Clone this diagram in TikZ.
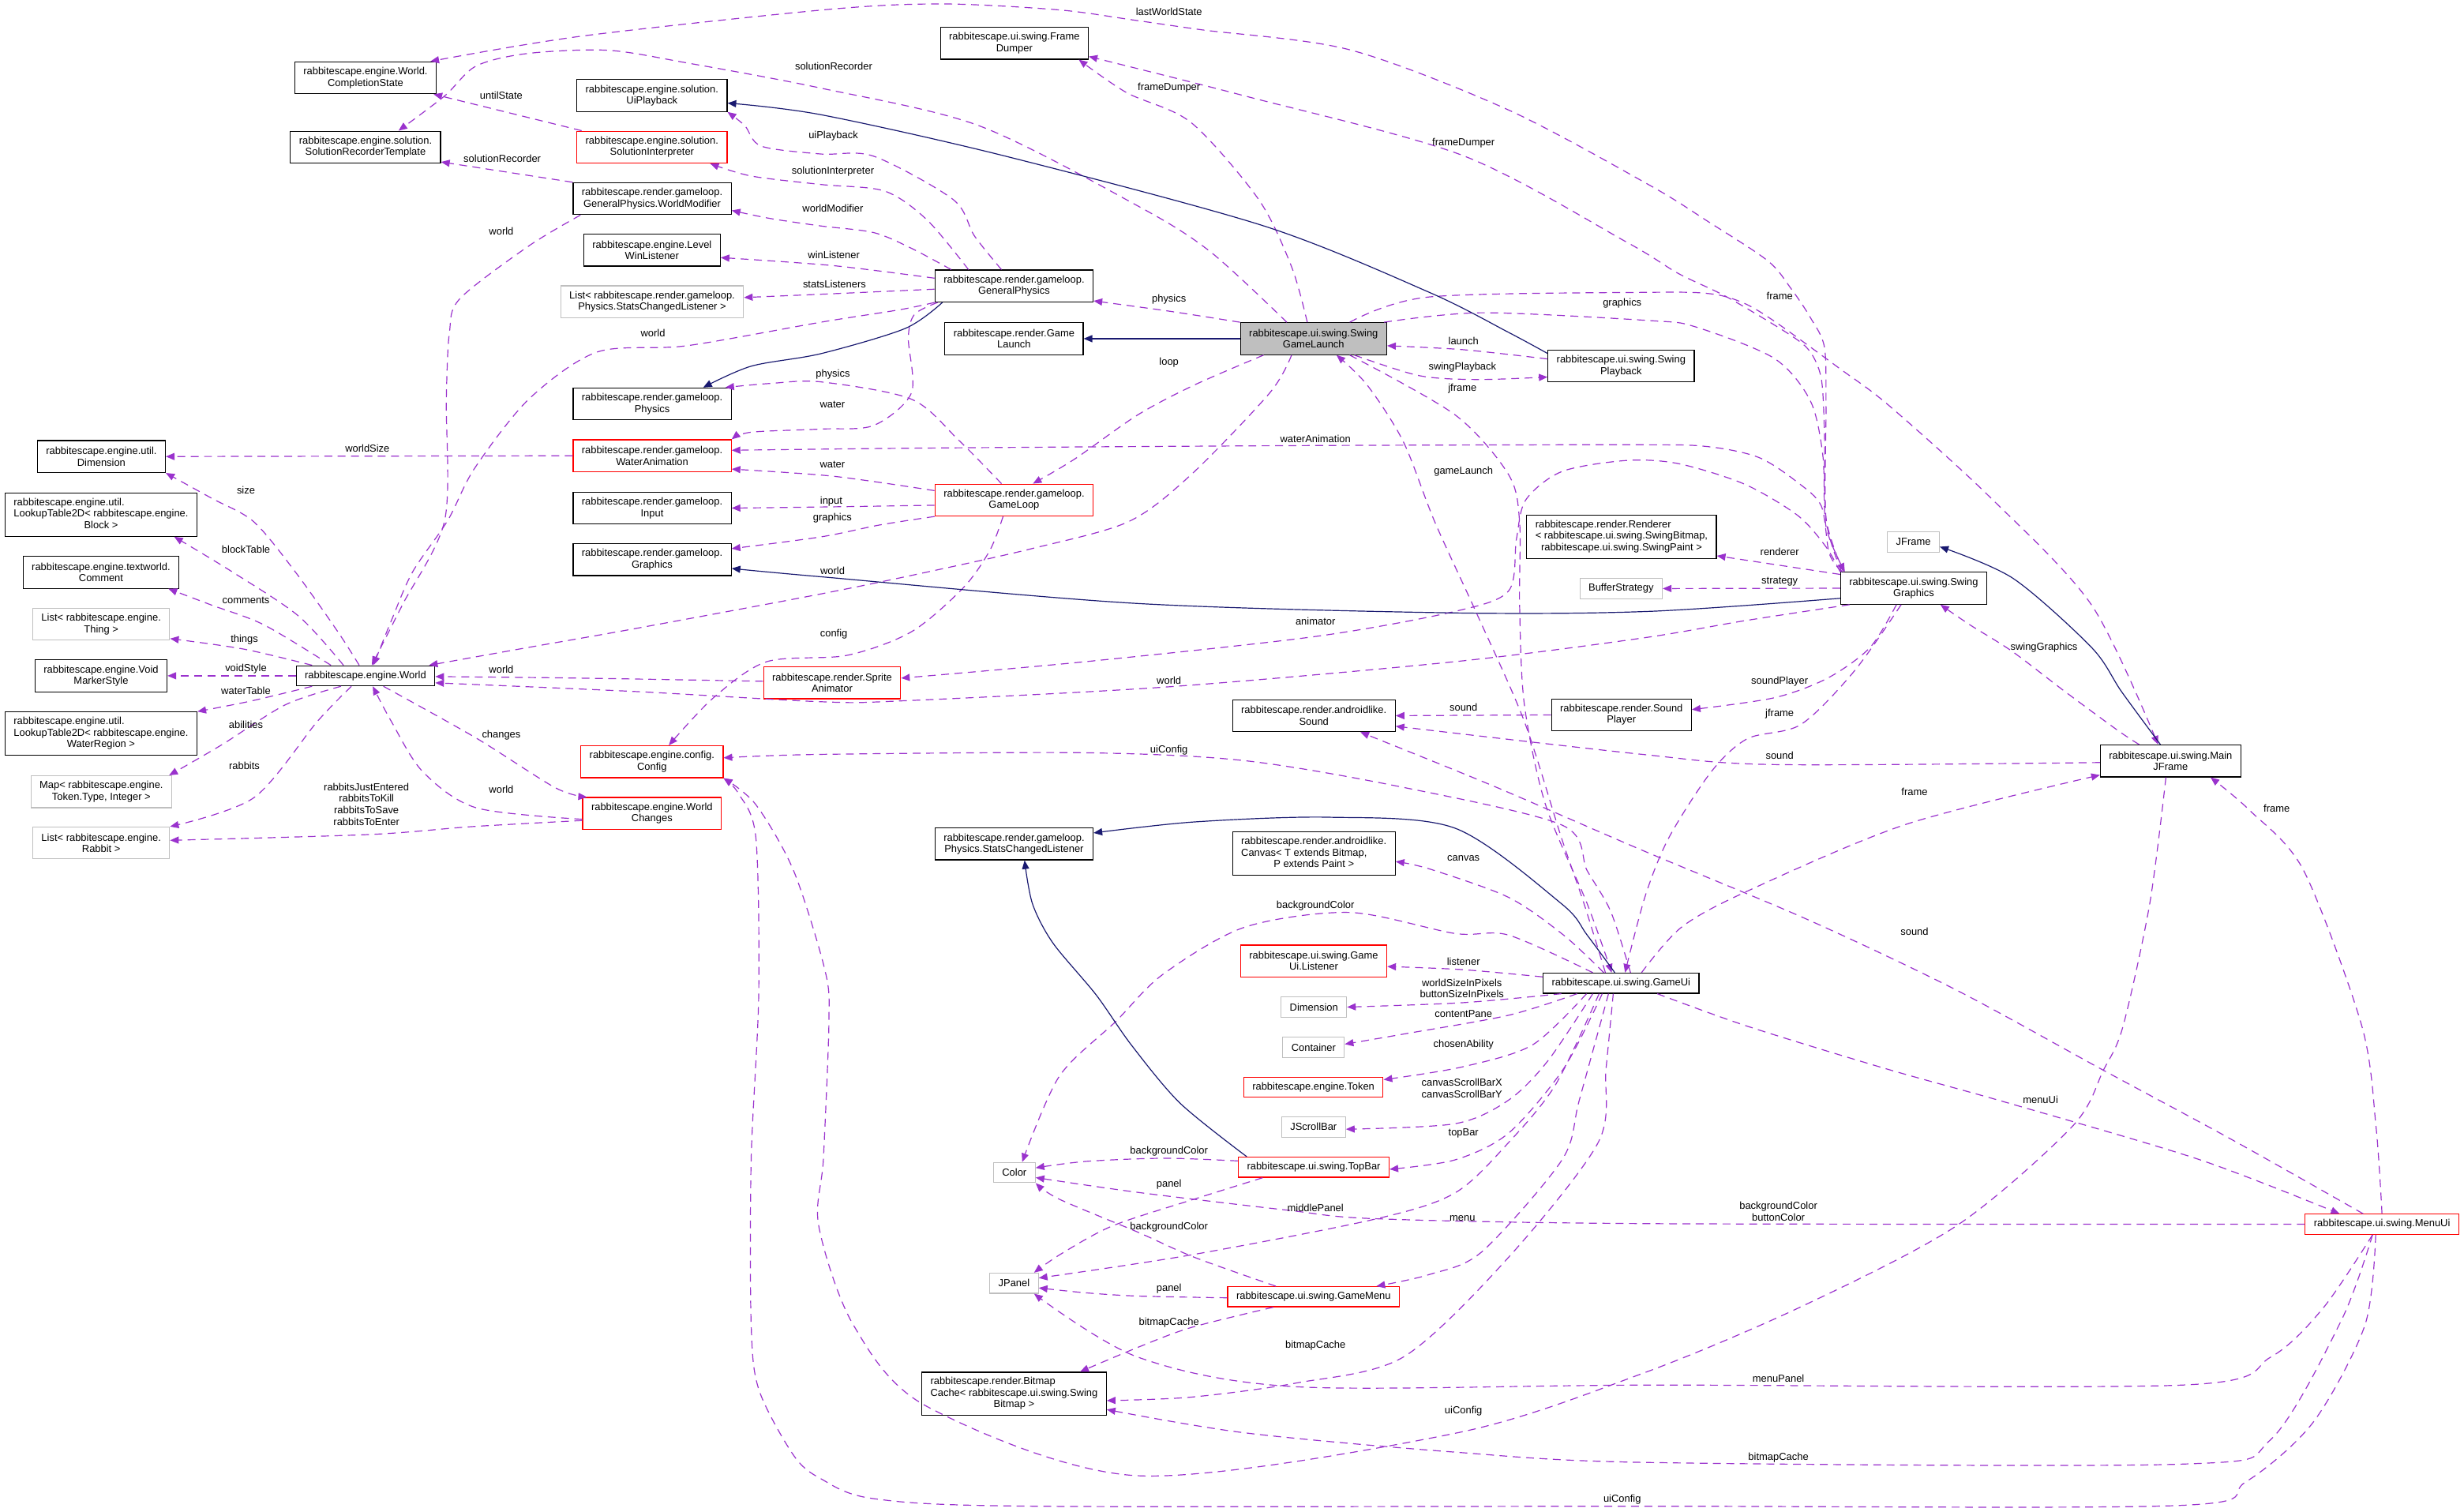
\documentclass[tikz,border=0pt]{standalone}
\usepackage{fontspec}
\setmainfont{Liberation Sans}
\usetikzlibrary{arrows.meta}

\definecolor{usecol}{HTML}{9A32CD}
\definecolor{inhcol}{HTML}{191970}
\definecolor{boxgray}{HTML}{BFBFBF}

\newcommand{\threel}[3]{\begin{tabular}{@{}l@{}}#1\\#2\\\multicolumn{1}{@{}c@{}}{#3}\end{tabular}}

\tikzset{
  cls/.style={draw=black, fill=white, line width=0.6pt, font=\fontsize{6.5}{7.2}\selectfont,
    align=center, inner xsep=5.5pt, inner ysep=0pt, minimum height=12.8pt},
  two/.style={minimum height=20.3pt},
  three/.style={minimum height=27.5pt},
  redcls/.style={cls, draw=red},
  ext/.style={cls, draw=boxgray},
  use/.style={draw=usecol, line width=0.6pt, dash pattern=on 5pt off 3.5pt,
    -{Triangle[length=5.5pt,width=4.5pt]}},
  inh/.style={draw=inhcol, line width=0.6pt, -{Triangle[length=5.5pt,width=4.5pt]}},
  lab/.style={font=\fontsize{6.5}{7.4}\selectfont, inner sep=0pt, align=center}
}

\begin{document}
\begin{tikzpicture}[x=1pt,y=-1pt]
\path[fill=white,use as bounding box] (0,0) rectangle (1568,961.6);

% classes
\node[cls,two] (complState) at (232.6,49.5) {rabbitescape.engine.World.\\CompletionState};
\node[cls,two] (solRecTpl) at (232.6,93.6) {rabbitescape.engine.solution.\\SolutionRecorderTemplate};
\node[cls,two] (uiPlayback) at (414.9,60.8) {rabbitescape.engine.solution.\\UiPlayback};
\node[redcls,two] (solInterp) at (414.9,93.6) {rabbitescape.engine.solution.\\SolutionInterpreter};
\node[cls,two] (worldMod) at (415,126.4) {rabbitescape.render.gameloop.\\GeneralPhysics.WorldModifier};
\node[cls,two] (levelWin) at (414.9,159.2) {rabbitescape.engine.Level\\WinListener};
\node[ext,two] (statsList) at (415,192) {List< rabbitescape.render.gameloop.\\Physics.StatsChangedListener >};
\node[cls,two] (physics) at (415,257) {rabbitescape.render.gameloop.\\Physics};
\node[redcls,two] (waterAnim) at (415,290) {rabbitescape.render.gameloop.\\WaterAnimation};
\node[cls,two] (input) at (415,323.3) {rabbitescape.render.gameloop.\\Input};
\node[cls,two] (graphics) at (415,356.1) {rabbitescape.render.gameloop.\\Graphics};
\node[redcls,two] (spriteAnim) at (529.5,434.5) {rabbitescape.render.Sprite\\Animator};
\node[redcls,two] (config) at (414.9,484.7) {rabbitescape.engine.config.\\Config};
\node[redcls,two] (worldChanges) at (414.9,517.6) {rabbitescape.engine.World\\Changes};
\node[cls,two] (utilDim) at (64.5,290.5) {rabbitescape.engine.util.\\Dimension};
\node[cls,three] (lookupBlock) at (64.3,327.5) {\threel{rabbitescape.engine.util.}{LookupTable2D< rabbitescape.engine.}{Block >}};
\node[cls,two] (comment) at (64.3,364.2) {rabbitescape.engine.textworld.\\Comment};
\node[ext,two] (thingList) at (64.4,397.2) {List< rabbitescape.engine.\\Thing >};
\node[cls,two] (voidStyle) at (64.3,430) {rabbitescape.engine.Void\\MarkerStyle};
\node[cls] (world) at (232.6,430) {rabbitescape.engine.World};
\node[cls,three] (lookupWater) at (64.3,466.8) {\threel{rabbitescape.engine.util.}{LookupTable2D< rabbitescape.engine.}{WaterRegion >}};
\node[ext,two] (mapToken) at (64.5,503.8) {Map< rabbitescape.engine.\\Token.Type, Integer >};
\node[ext,two] (rabbitList) at (64.4,536.4) {List< rabbitescape.engine.\\Rabbit >};
\node[cls,two] (frameDumper) at (645.5,27.5) {rabbitescape.ui.swing.Frame\\Dumper};
\node[cls,two] (genPhysics) at (645.3,182) {rabbitescape.render.gameloop.\\GeneralPhysics};
\node[cls,two] (gameLaunch) at (645.3,215.5) {rabbitescape.render.Game\\Launch};
\node[cls,two,fill=boxgray] (sgl) at (835.9,215.5) {rabbitescape.ui.swing.Swing\\GameLaunch};
\node[redcls,two] (gameLoop) at (645.3,318.2) {rabbitescape.render.gameloop.\\GameLoop};
\node[cls,two] (statsListener) at (645.3,537) {rabbitescape.render.gameloop.\\Physics.StatsChangedListener};
\node[cls,three] (bitmapCache) at (645.3,886.9) {\threel{rabbitescape.render.Bitmap}{Cache< rabbitescape.ui.swing.Swing}{Bitmap >}};
\node[cls,three] (renderer) at (1031.9,341.6) {\threel{rabbitescape.render.Renderer}{< rabbitescape.ui.swing.SwingBitmap,}{rabbitescape.ui.swing.SwingPaint >}};
\node[ext] (bufferStrategy) at (1031.6,374.5) {BufferStrategy};
\node[cls,two] (sound) at (836.1,455.4) {rabbitescape.render.androidlike.\\Sound};
\node[cls,two] (soundPlayer) at (1031.8,454.9) {rabbitescape.render.Sound\\Player};
\node[cls,three] (canvas) at (836.1,543.2) {\threel{rabbitescape.render.androidlike.}{Canvas< T extends Bitmap,}{P extends Paint >}};
\node[redcls,two] (gameUiListener) at (836,611.5) {rabbitescape.ui.swing.Game\\Ui.Listener};
\node[cls] (gameUi) at (1031.6,625.6) {rabbitescape.ui.swing.GameUi};
\node[ext] (dimension) at (836.1,640.8) {Dimension};
\node[ext] (container) at (835.9,666.4) {Container};
\node[redcls] (token) at (835.8,691.8) {rabbitescape.engine.Token};
\node[ext] (jScrollBar) at (835.9,717.1) {JScrollBar};
\node[ext] (color) at (645.5,746.1) {Color};
\node[redcls] (topBar) at (836,742.7) {rabbitescape.ui.swing.TopBar};
\node[ext] (jPanel) at (645.3,816.5) {JPanel};
\node[redcls] (gameMenu) at (835.9,825.1) {rabbitescape.ui.swing.GameMenu};
\node[cls,two] (swingPlayback) at (1031.6,232.9) {rabbitescape.ui.swing.Swing\\Playback};
\node[ext] (jFrame) at (1217.6,344.9) {JFrame};
\node[cls,two] (swingGfx) at (1217.8,374.3) {rabbitescape.ui.swing.Swing\\Graphics};
\node[cls,two] (mainJFrame) at (1381.3,484.2) {rabbitescape.ui.swing.Main\\JFrame};
\node[redcls] (menuUi) at (1515.8,779) {rabbitescape.ui.swing.MenuUi};

% SwingGameLaunch
\draw[inh] (sgl.west) -- (gameLaunch.east);
\draw[use] plot[smooth] coordinates {(sgl.north west) (744,198) ([yshift=1pt]genPhysics.south east)};
\draw[use] plot[smooth] coordinates {([xshift=15pt]sgl.south west) (760,245) (724,264) (684,292) ([xshift=12pt]gameLoop.north)};
\draw[use] plot[smooth] coordinates {([xshift=-4pt]sgl.north) (822,170) (801,127) (758,78) (717,59) ([xshift=41pt]frameDumper.south)};
\draw[use] plot[smooth] coordinates {([xshift=-17pt]sgl.north) (770,160) (724,131) (623,80) (522,56) (437,40) (387,32) (336,34) (303,42) (283,61) ([xshift=21pt]solRecTpl.north)};
\draw[use] plot[smooth] coordinates {([xshift=-14pt]sgl.south) (808,250) (758,302) (718,332) (657,349) (590,364) (522,378) (404,400) (336,412) ([xshift=-4pt]world.north east)};
\draw[use] plot[smooth] coordinates {([xshift=23pt]sgl.north) (909,189) (1050,186) (1089,187) (1110,193) (1130,205) (1170,234) (1202,258) (1266,316) (1331,385) ([xshift=-8pt]mainJFrame.north)};
\draw[use] plot[smooth] coordinates {([xshift=-2pt]sgl.north east) (943,199) (1050,204) (1079,208) (1129,228) (1152,255) (1160,290) (1162,335) ([xshift=3pt]swingGfx.north west)};
\draw[use] plot[smooth] coordinates {([xshift=26pt]sgl.south) (903,239) (940,241.5) ([yshift=-7pt]swingPlayback.west)};
\draw[use] plot[smooth] coordinates {([xshift=23pt]sgl.south) (926,264) (960,302) (967,332) (967,385) (970,448) (983.5,512) (1010,575) ([xshift=-6pt]gameUi.north)};

% SwingPlayback
\draw[inh] plot[smooth] coordinates {([yshift=8pt]swingPlayback.west) (960,211.5) (909.5,186) (805,144) (640,99.4) (522.5,73) ([yshift=-4.8pt]uiPlayback.east)};
\draw[use] plot[smooth] coordinates {([yshift=4.5pt]swingPlayback.west) (931,222.5) ([yshift=-4.5pt]sgl.east)};

% GeneralPhysics
\draw[use] plot[smooth] coordinates {([xshift=-8pt]genPhysics.north) (620,150) (606.6,127) (556,99.4) (522.5,98) (484.5,93) (474,80) (uiPlayback.south east)};
\draw[use] plot[smooth] coordinates {([xshift=-29pt]genPhysics.north) (590,140) (563,121.6) (522.5,117.4) (478,112) ([xshift=37pt]solInterp.south)};
\draw[use] plot[smooth] coordinates {([xshift=-40pt]genPhysics.north) (580,158) (556,148) (522.5,143.8) (490,139) ([yshift=-7.5pt]worldMod.east)};
\draw[use] plot[smooth] coordinates {([yshift=5pt]genPhysics.west) (530,169) ([yshift=-4.7pt]levelWin.east)};
\draw[use] plot[smooth] coordinates {([yshift=-2pt]genPhysics.west) (527.6,187) ([yshift=2.7pt]statsList.east)};
\draw[use] plot[smooth] coordinates {(genPhysics.south west) (573,197) (522.5,205) (437,220) (380,224) (336.5,254) (302,298) (285,331) (262.5,364) (249,395) ([xshift=5pt]world.north)};
\draw[use] plot[smooth] coordinates {([xshift=2pt]genPhysics.south west) (582,200) (578,215) (580,250) (556,270.7) (522.5,273) (478,275) (waterAnim.north east)};
\draw[inh] plot[smooth] coordinates {([xshift=5pt]genPhysics.south west) (576,209) (522.5,225) (478,233) ([xshift=32.5pt]physics.north)};

% GameLoop
\draw[use] plot[smooth] coordinates {([xshift=-8pt]gameLoop.north) (610,280) (580,254) (522.5,243) (490,244) ([xshift=-4pt]physics.north east)};
\draw[use] plot[smooth] coordinates {([yshift=6pt]gameLoop.west) (530,303) ([yshift=-8.5pt]waterAnim.east)};
\draw[use] plot[smooth] coordinates {([yshift=-3.3pt]gameLoop.west) (530,322.5) (input.east)};
\draw[use] plot[smooth] coordinates {(gameLoop.south west) (560,334) (522.5,341.6) ([yshift=7pt]graphics.east)};
\draw[use] plot[smooth] coordinates {([xshift=-7pt]gameLoop.south) (630,350) (613,374) (580,402) (539,417) (488,421) (454,444) ([xshift=10.7pt]config.north)};

% SwingGraphics
\draw[use] plot[smooth] coordinates {([xshift=1pt]swingGfx.north west) (1162,330) (1162,260) (1161,221) (1152,202) (1140,184) (1125,166) (1087,141) (1050,118) (960,70) (859,31.7) (765,19) (721,12.7) (674,6.3) (600,2.5) (527,6) (370,23) ([xshift=-4pt]complState.north east)};
\draw[use] plot[smooth] coordinates {([xshift=2pt]swingGfx.north west) (1162,330) (1161,275) (1159,241) (1152,224) (1139,213) (1099,189) (1068,174) (1035,154) (931,99) (792,61) ([yshift=2pt]frameDumper.south east)};
\draw[use] plot[smooth] coordinates {([xshift=1pt]swingGfx.north west) (1164,352) (1159,322) (1144,307) (1119,291) (1085,284) (1035,283) (837,283.5) (600,285) ([yshift=3.5pt]waterAnim.east)};
\draw[use] plot[smooth] coordinates {(swingGfx.north west) (1162,348) (1144,328) (1110,308) (1068,295) (1035,293) (994,300) (971,318) (965,343) (960,376) (926,389) (837,405) (691,421) ([yshift=3pt]spriteAnim.east)};
\draw[use] plot[smooth] coordinates {([xshift=6pt]swingGfx.south west) (1110,395) (1045,406) (926,421) (744,437) (573,446) (522,446.5) (404,440) ([yshift=-4.5pt]world.east)};
\draw[inh] plot[smooth] coordinates {([yshift=-6.4pt]swingGfx.west) (1050,389) (926,390) (724,384) (522.5,367) ([yshift=-5.6pt]graphics.east)};
\draw[use] ([yshift=8.8pt]swingGfx.west) -- ([yshift=2pt]renderer.south east);
\draw[use] (swingGfx.west) -- (bufferStrategy.east);
\draw[use] plot[smooth] coordinates {([xshift=-11pt]swingGfx.south) (1190,412) (1163,431.5) (1129,444) ([yshift=3.4pt]soundPlayer.east)};
\draw[use] plot[smooth] coordinates {([xshift=-8pt]swingGfx.south) (1180,427) (1146,461) (1112,470) (1089,491) (1062,533) (1047,570) ([xshift=2.5pt]gameUi.north)};

% MainJFrame
\draw[inh] plot[smooth] coordinates {([xshift=-6.5pt]mainJFrame.north) (1350,440) (1331,412) (1281,368) ([yshift=-3pt]jFrame.east)};
\draw[use] plot[smooth] coordinates {([xshift=-20pt]mainJFrame.north) (1348,465) (1314,440) (1280.5,414.5) (1253.6,397.6) ([xshift=17pt]swingGfx.south)};
\draw[use] plot[smooth] coordinates {([yshift=-1pt]mainJFrame.west) (1129,486.5) (1045,480) ([yshift=-6.7pt]sound.east)};
\draw[use] plot[smooth] coordinates {([xshift=-3pt]mainJFrame.south) (1368,575) (1351,653) (1338.5,681) (1318.5,717) (1245,780) (1145,832) (1045,874) (926,912) (724,939) (590,895) (543,843) (521,780) (524,737) (527.5,650) (525,617.5) (505,554) (481,512) (config.south east)};

% GameUi
\draw[inh] plot[smooth] coordinates {([xshift=-4pt]gameUi.north) (1010,595) (993.6,575) (926,527) (845.5,520) (760,523) ([yshift=7pt]statsListener.east)};
\draw[use] plot[smooth] coordinates {([xshift=-10pt]gameUi.north) (1008,575) (993.6,533) (970,459) (940,391) (913,332) (893,281) (870,245) ([xshift=14.6pt]sgl.south)};
\draw[use] plot[smooth] coordinates {([xshift=6pt]gameUi.north) (1025,580) (1010,554) (994,525) (893,501) (792,484) (691,479) (522.5,480) ([yshift=2.5pt]config.east)};
\draw[use] plot[smooth] coordinates {([xshift=-11pt]gameUi.north) (995,595) (960,571) (910,553) ([yshift=-5pt]canvas.east)};
\draw[use] plot[smooth] coordinates {([xshift=-18pt]gameUi.north) (960,595) (926,594) (859,580.6) (792,590) (740,620) (710,650) (674,685) ([xshift=5pt]color.north)};
\draw[use] plot[smooth] coordinates {([yshift=4pt]gameUi.west) (931,617) ([yshift=-3.5pt]gameUiListener.east)};
\draw[use] plot[smooth] coordinates {([xshift=-38pt]gameUi.south) (931,638) (dimension.east)};
\draw[use] plot[smooth] coordinates {([xshift=-28pt]gameUi.south) (960,646) (893,658) ([yshift=2pt]container.east)};
\draw[use] plot[smooth] coordinates {([xshift=-22pt]gameUi.south) (975,665) (930,679) ([yshift=4.8pt]token.east)};
\draw[use] plot[smooth] coordinates {([xshift=-18pt]gameUi.south) (985,675) (960,700) (926,715) ([yshift=-1.4pt]jScrollBar.east)};
\draw[use] plot[smooth] coordinates {([xshift=-12pt]gameUi.south) (995,680) (960,721) (926,738) ([yshift=-1.3pt]topBar.east)};
\draw[use] plot[smooth] coordinates {([xshift=-8pt]gameUi.south) (1005,700) (994,738) (943,796.5) (909.5,811) ([xshift=40pt]gameMenu.north)};
\draw[use] plot[smooth] coordinates {([xshift=-14pt]gameUi.south) (990,690) (960,727) (926,759) (876,775.5) (758,798.5) ([yshift=3.3pt]jPanel.east)};
\draw[use] plot[smooth] coordinates {([xshift=-5pt]gameUi.south) (1022,680) (1017,727) (960,800) (893,863.5) (825,880) (758,889) ([yshift=-4.3pt]bitmapCache.east)};
\draw[use] plot[smooth] coordinates {([xshift=23pt]gameUi.south) (1112,653) (1200,680) (1278.5,702) (1400,738) ([xshift=-27pt]menuUi.north)};
\draw[use] plot[smooth] coordinates {([xshift=13pt]gameUi.north) (1070,590) (1112,567) (1213,524.5) ([yshift=1.5pt]mainJFrame.south west)};

% MenuUi
\draw[use] plot[smooth] coordinates {(menuUi.north) (1512,717) (1503,653) (1466,554) (1432,516) ([xshift=25.4pt]mainJFrame.south)};
\draw[use] plot[smooth] coordinates {([xshift=-12pt]menuUi.north) (1420,725) (1338.5,681) (1245,630) (1150,585) (1045,541) (950,500) ([xshift=29.6pt]sound.south)};
\draw[use] plot[smooth] coordinates {(menuUi.west) (1050,778.6) (876,775.5) (819,770) (724,758.7) ([yshift=-3.2pt]color.east)};
\draw[use] plot[smooth] coordinates {([xshift=-6pt]menuUi.south) (1478.6,832) (1445,863.5) (1389,881.3) (1050,881.3) (825,882.4) (724,863.5) ([xshift=-3pt]jPanel.south east)};
\draw[use] plot[smooth] coordinates {([xshift=-6pt]menuUi.south) (1490,840) (1445,916) (1389,931.6) (1050,930.6) (926,924) (792,911.7) ([yshift=-10pt]bitmapCache.east)};
\draw[use] plot[smooth] coordinates {([xshift=-4pt]menuUi.south) (1505,843) (1472,905) (1429,943) (1385,958) (1045,958.4) (657,958.4) (556,953.6) (522.5,941) (505,926) (483,884.5) (478,842.6) (478,738) (482.8,633) (481,533) (470,505) (config.south east)};

% TopBar, GameMenu, SoundPlayer
\draw[inh] plot[smooth] coordinates {([xshift=-42.6pt]topBar.north) (751,702) (720,665) (697.5,633) (670,600) (657,575) ([xshift=6.7pt]statsListener.south)};
\draw[use] plot[smooth] coordinates {([yshift=4pt]topBar.west) (741,737) (691,739) ([yshift=3pt]color.east)};
\draw[use] plot[smooth] coordinates {([xshift=-32.5pt]topBar.south) (760,763) (708,780) (675,798) ([xshift=-3pt]jPanel.north east)};
\draw[use] plot[smooth] coordinates {([xshift=-24pt]gameMenu.north) (760,800) (724,784) (674,763) (color.south east)};
\draw[use] plot[smooth] coordinates {([yshift=-0.7pt]gameMenu.west) (724.4,824.7) (690.7,822.6) ([yshift=-3pt]jPanel.east)};
\draw[use] plot[smooth] coordinates {([xshift=-25.7pt]gameMenu.south) (758,844.7) (724.4,857.2) ([xshift=42pt]bitmapCache.north)};
\draw[use] (soundPlayer.west) -- (sound.east);

% World
\draw[use] plot[smooth] coordinates {([xshift=-4pt]world.north) (215,402) (188,364) (161.5,332) (134.6,317) (utilDim.south east)};
\draw[use] plot[smooth] coordinates {([xshift=-14pt]world.north) (190,392) (148,364) ([xshift=-14.8pt]lookupBlock.south east)};
\draw[use] plot[smooth] coordinates {([xshift=-22pt]world.north) (168,397.6) (134.6,385) ([xshift=-7pt]comment.south east)};
\draw[use] plot[smooth] coordinates {([xshift=-34pt]world.north) (155,413) ([yshift=1.3pt]thingList.south east)};
\draw[use] (world.west) -- (voidStyle.east);
\draw[use] plot[smooth] coordinates {([xshift=-34pt]world.south) (160,446) (lookupWater.north east)};
\draw[use] plot[smooth] coordinates {([xshift=-15.6pt]world.south) (181.7,448.4) (141.3,473.8) ([xshift=-2pt]mapToken.north east)};
\draw[use] plot[smooth] coordinates {([xshift=-9pt]world.south) (202,459) (161.5,507.6) (rabbitList.north east)};
\draw[use] plot[smooth] coordinates {([xshift=11.4pt]world.south) (302.8,469.5) (353.3,501.2) ([xshift=3pt]worldChanges.north west)};

% WorldChanges, SpriteAnimator, WaterAnimation, SolutionInterpreter, WorldModifier
\draw[use] plot[smooth] coordinates {([yshift=-3.7pt]worldChanges.west) (303,514) (269,491) (249,459) ([xshift=4.6pt]world.south)};
\draw[use] plot[smooth] coordinates {([yshift=-4.5pt]worldChanges.west) (300,526) (235,531) ([yshift=1.7pt]rabbitList.east)};
\draw[use] plot[smooth] coordinates {([yshift=1pt]spriteAnim.west) (370,431.5) ([yshift=-0.5pt]world.east)};
\draw[use] (waterAnim.west) -- (utilDim.east);
\draw[use] ([xshift=3.3pt]solInterp.north west) -- ([xshift=-2pt]complState.south east);
\draw[use] (worldMod.north west) -- ([yshift=1pt]solRecTpl.south east);
\draw[use] plot[smooth] coordinates {([xshift=5pt]worldMod.south west) (336.5,156.5) (292.7,190) (286,211.5) (284,254) (283,331) (256,385) ([xshift=4pt]world.north)};

% labels
\node[lab] (lbUntil) at (319,60.7) {untilState};
\node[lab] (lbSolRec1) at (319.6,100.9) {solutionRecorder};
\node[lab] (lbWorld1) at (319,147) {world};
\node[lab] (lbWorld2) at (415.5,212.1) {world};
\node[lab] (lbWorldSize) at (233.8,285.5) {worldSize};
\node[lab] (lbSize) at (156.5,311.9) {size};
\node[lab] (lbBlock) at (156.5,349.4) {blockTable};
\node[lab] (lbComments) at (156.5,382.2) {comments};
\node[lab] (lbThings) at (155.5,407.1) {things};
\node[lab] (lbVoid) at (156.5,425.5) {voidStyle};
\node[lab] (lbWaterTable) at (156.5,439.3) {waterTable};
\node[lab] (lbAbilities) at (156.5,461.1) {abilities};
\node[lab] (lbRabbits) at (155.5,487.5) {rabbits};
\node[lab] (lbChanges) at (319,467.8) {changes};
\node[lab] (lbWorld3) at (319,502.5) {world};
\node[lab] (lbWorld4) at (319,426.2) {world};
\node[lab] (lbRabbitSets) at (233.2,511.8) {rabbitsJustEntered\\rabbitsToKill\\rabbitsToSave\\rabbitsToEnter};
\node[lab] (lbSolRec2) at (530.5,42.3) {solutionRecorder};
\node[lab] (lbUiPlay) at (530.3,86.3) {uiPlayback};
\node[lab] (lbSolInt) at (530,108.9) {solutionInterpreter};
\node[lab] (lbWorldMod) at (530,132.8) {worldModifier};
\node[lab] (lbWin) at (530.6,162) {winListener};
\node[lab] (lbStats) at (531,180.6) {statsListeners};
\node[lab] (lbPhysics1) at (530,238.3) {physics};
\node[lab] (lbWater1) at (529.7,257.6) {water};
\node[lab] (lbWater2) at (529.7,295.6) {water};
\node[lab] (lbInput) at (529,318.9) {input};
\node[lab] (lbGraphics1) at (529.7,329.5) {graphics};
\node[lab] (lbWorld5) at (529.8,363.4) {world};
\node[lab] (lbConfig) at (530.6,403.5) {config};
\node[lab] (lbLast) at (743.9,7.5) {lastWorldState};
\node[lab] (lbFD1) at (743.9,55.6) {frameDumper};
\node[lab] (lbFD2) at (931.3,90.9) {frameDumper};
\node[lab] (lbPhysics2) at (743.9,190.7) {physics};
\node[lab] (lbLoop) at (743.9,230.5) {loop};
\node[lab] (lbLaunch) at (931.3,217.2) {launch};
\node[lab] (lbSwingPlay) at (930.6,233.5) {swingPlayback};
\node[lab] (lbJframe1) at (930.6,247.4) {jframe};
\node[lab] (lbGraphics2) at (1032.3,193.1) {graphics};
\node[lab] (lbFrame1) at (1132.5,188.2) {frame};
\node[lab] (lbWaterAnim) at (837.1,279.1) {waterAnimation};
\node[lab] (lbGameLaunch) at (931.3,299.8) {gameLaunch};
\node[lab] (lbAnimator) at (837.1,395.5) {animator};
\node[lab] (lbWorld6) at (743.9,433.2) {world};
\node[lab] (lbRenderer) at (1132.5,351.1) {renderer};
\node[lab] (lbStrategy) at (1132.5,370.1) {strategy};
\node[lab] (lbSoundPlayer) at (1132.5,433.8) {soundPlayer};
\node[lab] (lbSound1) at (931.3,450.1) {sound};
\node[lab] (lbJframe2) at (1132.5,454.3) {jframe};
\node[lab] (lbSound2) at (1132.5,480.5) {sound};
\node[lab] (lbSwingGfx) at (1300.7,412) {swingGraphics};
\node[lab] (lbFrame2) at (1218.3,504) {frame};
\node[lab] (lbFrame3) at (1448.8,514.6) {frame};
\node[lab] (lbUiConfig1) at (743.9,477.6) {uiConfig};
\node[lab] (lbCanvas) at (931.3,546.1) {canvas};
\node[lab] (lbBg1) at (837.1,576.3) {backgroundColor};
\node[lab] (lbSound3) at (1218.3,592.6) {sound};
\node[lab] (lbListener) at (931.3,612) {listener};
\node[lab] (lbPixels) at (930.3,628.9) {worldSizeInPixels\\buttonSizeInPixels};
\node[lab] (lbContent) at (931.3,645) {contentPane};
\node[lab] (lbChosen) at (931.3,664.9) {chosenAbility};
\node[lab] (lbScroll) at (930.3,692.6) {canvasScrollBarX\\canvasScrollBarY};
\node[lab] (lbTopBar) at (931.3,721.2) {topBar};
\node[lab] (lbMenuUi) at (1298.5,699.6) {menuUi};
\node[lab] (lbBg2) at (743.9,732.7) {backgroundColor};
\node[lab] (lbPanel1) at (743.9,753.9) {panel};
\node[lab] (lbMiddle) at (837.1,768.8) {middlePanel};
\node[lab] (lbMenu) at (930.6,775.1) {menu};
\node[lab] (lbBg3) at (1131.7,771) {backgroundColor\\buttonColor};
\node[lab] (lbBg4) at (743.9,781) {backgroundColor};
\node[lab] (lbPanel2) at (743.9,820.1) {panel};
\node[lab] (lbBC1) at (743.9,841.7) {bitmapCache};
\node[lab] (lbBC2) at (837.1,856.4) {bitmapCache};
\node[lab] (lbMenuPanel) at (1131.7,877.1) {menuPanel};
\node[lab] (lbUiConfig2) at (931.3,898.1) {uiConfig};
\node[lab] (lbBC3) at (1131.7,927.4) {bitmapCache};
\node[lab] (lbUiConfig3) at (1032.3,954.2) {uiConfig};

\end{tikzpicture}
\end{document}
